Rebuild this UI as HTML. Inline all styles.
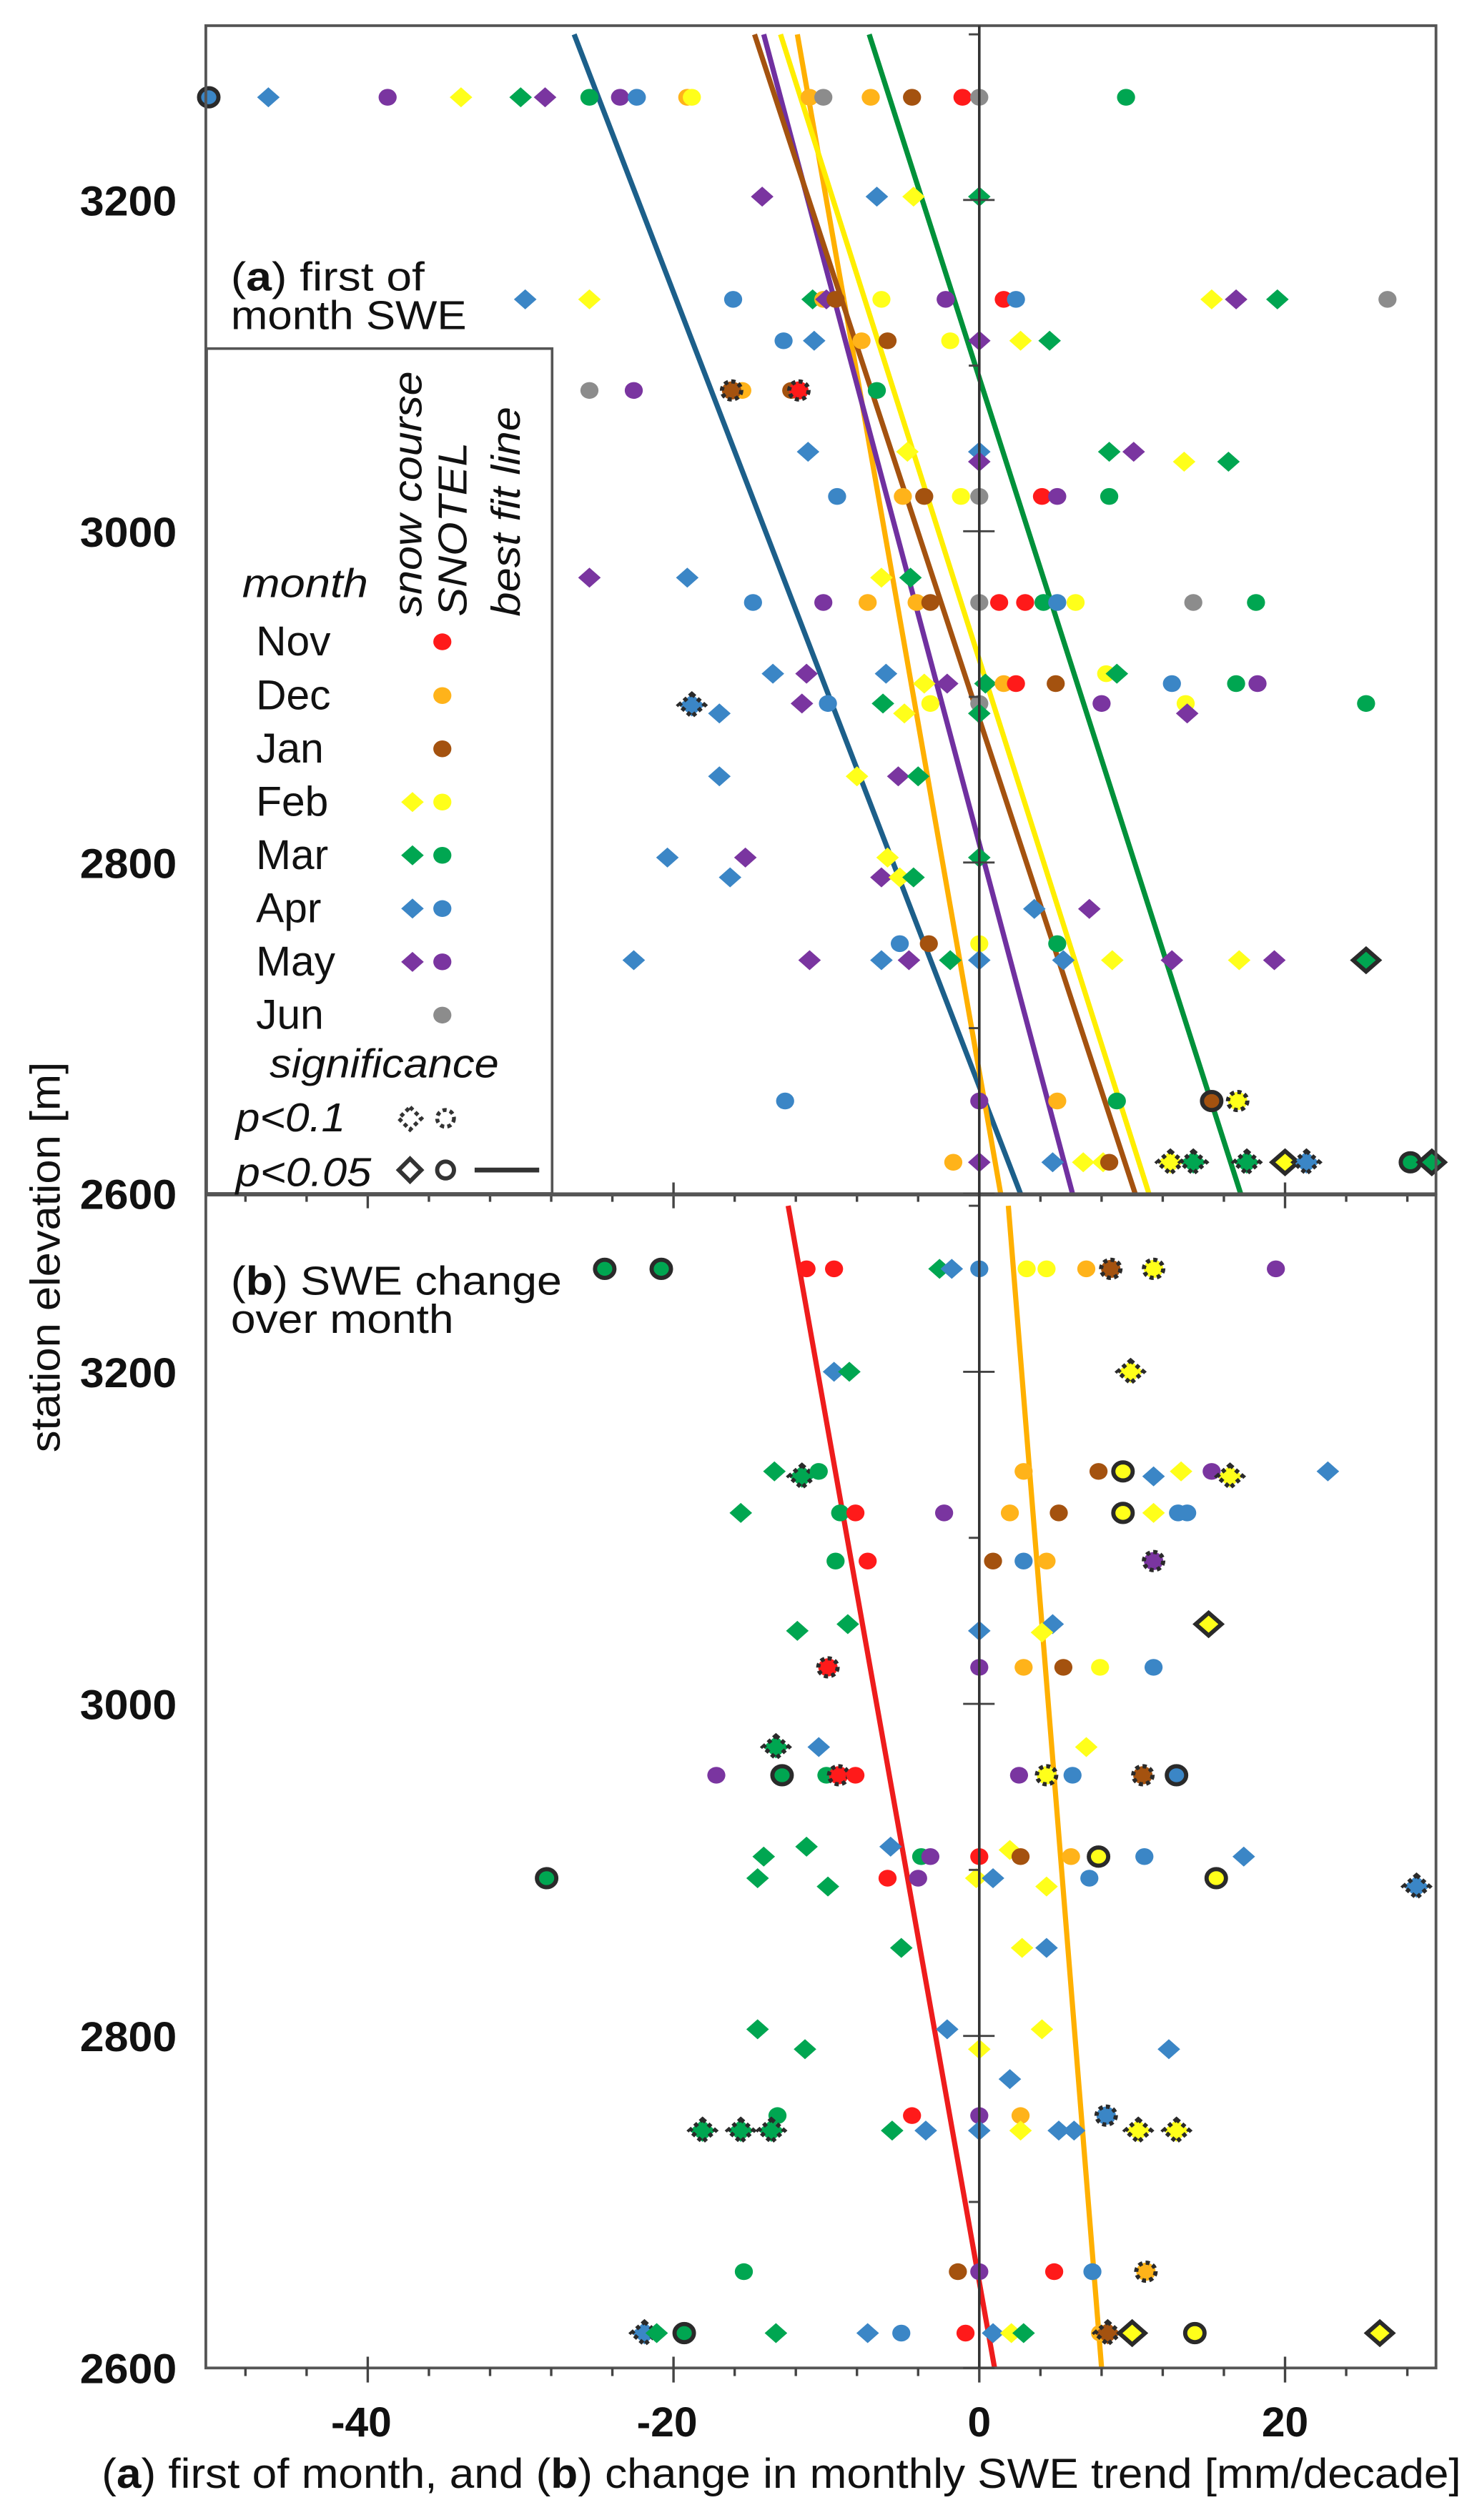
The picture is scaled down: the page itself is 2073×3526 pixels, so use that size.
<!DOCTYPE html>
<html><head><meta charset="utf-8"><style>
html,body{margin:0;padding:0;background:#fff}
svg{display:block}
text{font-family:"Liberation Sans",sans-serif;fill:#111}
</style></head><body>
<svg id="chart" xmlns="http://www.w3.org/2000/svg" width="2073" height="3526" viewBox="0 0 918 1561.5" preserveAspectRatio="none">
<rect x="0" y="0" width="918" height="1561.5" fill="#fff"/>
<g id="lines"></g>
<g id="pts"></g>
<g id="axes"></g>
<g>
 <rect x="128" y="216" width="214" height="523.5" fill="#fff" stroke="#555" stroke-width="1.6"/>
 <text x="143" y="180" font-size="25" textLength="120" lengthAdjust="spacingAndGlyphs">(<tspan font-weight="bold">a</tspan>) first of</text>
 <text x="143" y="204" font-size="25" textLength="146" lengthAdjust="spacingAndGlyphs">month SWE</text>
 <text transform="translate(261,382) rotate(-90)" font-size="25" font-style="italic" textLength="152" lengthAdjust="spacingAndGlyphs">snow course</text>
 <text transform="translate(289,382) rotate(-90)" font-size="25" font-style="italic" textLength="108" lengthAdjust="spacingAndGlyphs">SNOTEL</text>
 <text transform="translate(322,382) rotate(-90)" font-size="25" font-style="italic" textLength="130" lengthAdjust="spacingAndGlyphs">best fit line</text>
 <text x="150" y="370" font-size="25" font-style="italic" textLength="78" lengthAdjust="spacingAndGlyphs">month</text>
 <g id="legItems"></g>
 <text x="167" y="667.6" font-size="25" font-style="italic" textLength="142" lengthAdjust="spacingAndGlyphs">significance</text>
 <text x="146" y="701" font-size="25" font-style="italic" textLength="68" lengthAdjust="spacingAndGlyphs">p&lt;0.1</text>
 <text x="146" y="735" font-size="25" font-style="italic" textLength="84" lengthAdjust="spacingAndGlyphs">p&lt;0.05</text>
 <path d="M254 686 L261 693 L254 700 L247 693 Z" fill="#fff" stroke="#333" stroke-width="2.4" stroke-dasharray="2.5,2"/>
 <circle cx="276" cy="693" r="5.2" fill="#fff" stroke="#333" stroke-width="2.4" stroke-dasharray="2.5,2"/>
 <path d="M254 718 L261 725 L254 732 L247 725 Z" fill="#fff" stroke="#333" stroke-width="2.6"/>
 <circle cx="276" cy="725" r="5.2" fill="#fff" stroke="#333" stroke-width="2.6"/>
 <line x1="294" y1="725" x2="334" y2="725" stroke="#333" stroke-width="3"/>
</g>
<text x="143" y="802.3" font-size="25" textLength="205" lengthAdjust="spacingAndGlyphs">(<tspan font-weight="bold">b</tspan>) SWE change</text>
<text x="143" y="826" font-size="25" textLength="138" lengthAdjust="spacingAndGlyphs">over month</text>
<text transform="translate(37,900) rotate(-90)" font-size="26" textLength="242" lengthAdjust="spacingAndGlyphs">station elevation [m]</text>
<text x="63" y="1541.5" font-size="26" textLength="842" lengthAdjust="spacingAndGlyphs">(<tspan font-weight="bold">a</tspan>) first of month, and (<tspan font-weight="bold">b</tspan>) change in monthly SWE trend [mm/decade]</text>
</svg>
<script>
const months = ["Nov","Dec","Jan","Feb","Mar","Apr","May","Jun"];
const monthColors = {Nov:"#ff1a1a",Dec:"#ffb31a",Jan:"#a4520f",Feb:"#ffff1a",Mar:"#00a651",Apr:"#3b86c6",May:"#7a35a0",Jun:"#8c8c8c"};
const lineColors = {Nov:"#ee1c1c",Dec:"#ffb000",Jan:"#a4520f",Feb:"#ffee00",Mar:"#00913a",Apr:"#1c5f8a",May:"#7030a0"};
const xTicks = [-40,-20,0,20];
const yTicks = [2600,2800,3000,3200];
// best fit lines: value at 3300 m and at 2600 m
const fitAMonths = ["Apr","Dec","Feb","May","Jan","Mar"];
const fitATop = [-26.5,-11.9,-13.0,-14.1,-14.7,-7.2];
const fitABottom = [2.7,1.4,11.1,6.1,10.2,17.1];
const fitBMonths = ["Nov","Dec"];
const fitBTop = [-12.5,1.9];
const fitBBottom = [1.0,8.0];
// points: [month, shape(d=snow course diamond, c=SNOTEL circle), trend, elevation, significance(0,1=p<0.1,2=p<0.05)]
const pointsA = [
["Apr","c",-50.4,3262,2],["Apr","d",-46.5,3262,0],["May","c",-38.7,3262,0],["Feb","d",-33.9,3262,0],["Mar","d",-30.0,3262,0],["May","d",-28.4,3262,0],["Mar","c",-25.5,3262,0],["May","c",-23.5,3262,0],["Apr","c",-22.4,3262,0],["Dec","c",-19.1,3262,0],["Feb","c",-18.8,3262,0],["Dec","c",-11.1,3262,0],["Jun","c",-10.2,3262,0],["Dec","c",-7.1,3262,0],["Jan","c",-4.4,3262,0],["Nov","c",-1.1,3262,0],["Jun","c",0,3262,0],["Mar","c",9.6,3262,0],
["May","d",-14.2,3202,0],["Apr","d",-6.7,3202,0],["Feb","d",-4.3,3202,0],["Mar","d",0,3202,0],
["Apr","d",-29.7,3140,0],["Feb","d",-25.5,3140,0],["Apr","c",-16.1,3140,0],["Mar","d",-10.9,3140,0],["Dec","c",-10.2,3140,0],["May","d",-10.0,3140,0],["Jan","c",-9.4,3140,0],["Feb","c",-6.4,3140,0],["May","c",-2.2,3140,0],["Nov","c",1.6,3140,0],["Apr","c",2.4,3140,0],["Feb","d",15.2,3140,0],["May","d",16.8,3140,0],["Mar","d",19.5,3140,0],["Jun","c",26.7,3140,0],
["Apr","c",-12.8,3115,0],["Apr","d",-10.8,3115,0],["Dec","c",-7.7,3115,0],["Jan","c",-6.0,3115,0],["Feb","c",-1.9,3115,0],["May","d",0,3115,0],["Feb","d",2.7,3115,0],["Mar","d",4.6,3115,0],
["Jun","c",-25.5,3085,0],["May","c",-22.6,3085,0],["Dec","c",-15.5,3085,0],["Jan","c",-16.2,3085,1],["Jan","c",-12.3,3085,0],["Nov","c",-11.8,3085,1],["Mar","c",-6.7,3085,0],
["Apr","d",-11.2,3048,0],["Feb","d",-4.7,3048,0],["Apr","d",0,3048,0],["Mar","d",8.5,3048,0],["May","d",10.1,3048,0],
["May","d",0,3042,0],["Feb","d",13.4,3042,0],["Mar","d",16.3,3042,0],
["Apr","c",-9.3,3021,0],["Dec","c",-5.0,3021,0],["Jan","c",-3.6,3021,0],["Feb","c",-1.2,3021,0],["Jun","c",0,3021,0],["Nov","c",4.1,3021,0],["May","c",5.1,3021,0],["Mar","c",8.5,3021,0],
["May","d",-25.5,2972,0],["Apr","d",-19.1,2972,0],["Feb","d",-6.4,2972,0],["Mar","d",-4.5,2972,0],
["Apr","c",-14.8,2957,0],["May","c",-10.2,2957,0],["Dec","c",-7.3,2957,0],["Dec","c",-4.1,2957,0],["Jan","c",-3.2,2957,0],["Jun","c",0,2957,0],["Nov","c",1.3,2957,0],["Nov","c",3.0,2957,0],["Mar","c",4.2,2957,0],["Apr","c",5.1,2957,0],["Feb","c",6.3,2957,0],["Jun","c",14.0,2957,0],["Mar","c",18.1,2957,0],
["Apr","d",-13.5,2914,0],["May","d",-11.3,2914,0],["Apr","d",-6.1,2914,0],["Feb","c",8.3,2914,0],["Mar","d",9.0,2914,0],
["Feb","d",-3.6,2908,0],["May","d",-2.1,2908,0],["Mar","d",0.4,2908,0],["Dec","c",1.6,2908,0],["Nov","c",2.4,2908,0],["Jan","c",5.0,2908,0],["Apr","c",12.6,2908,0],["Mar","c",16.8,2908,0],["May","c",18.2,2908,0],
["Apr","d",-18.8,2895,1],["May","d",-11.6,2896,0],["Apr","c",-9.9,2896,0],["Mar","d",-6.3,2896,0],["Feb","c",-3.2,2896,0],["Jun","c",0,2896,0],["May","c",8.0,2896,0],["Feb","c",13.5,2896,0],["Mar","c",25.3,2896,0],
["Apr","d",-17.0,2890,0],["Feb","d",-4.9,2890,0],["Mar","d",0,2890,0],["May","d",13.6,2890,0],
["Apr","d",-17.0,2852,0],["Feb","d",-8.0,2852,0],["May","d",-5.3,2852,0],["Mar","d",-4.0,2852,0],
["Apr","d",-20.4,2803,0],["May","d",-15.3,2803,0],["Feb","d",-6.0,2803,0],["Mar","d",0,2803,0],
["Apr","d",-16.3,2791,0],["May","d",-6.4,2791,0],["Feb","d",-5.2,2791,0],["Mar","d",-4.3,2791,0],
["Apr","d",3.6,2772,0],["May","d",7.2,2772,0],
["Apr","c",-5.2,2751,0],["Jan","c",-3.3,2751,0],["Feb","c",0,2751,0],["Mar","c",5.1,2751,0],
["Apr","d",-22.6,2741,0],["May","d",-11.1,2741,0],["Apr","d",-6.4,2741,0],["May","d",-4.6,2741,0],["Mar","d",-1.9,2741,0],["Apr","d",0,2741,0],["Apr","d",5.5,2741,0],["Feb","d",8.7,2741,0],["May","d",12.6,2741,0],["Feb","d",17.0,2741,0],["May","d",19.3,2741,0],["Mar","d",25.3,2741,2],
["Apr","c",-12.7,2656,0],["May","c",0,2656,0],["Dec","c",5.1,2656,0],["Mar","c",9.0,2656,0],["Jan","c",15.2,2656,2],["Feb","c",16.9,2656,1],
["Dec","c",-1.7,2619,0],["May","d",0,2619,0],["Apr","d",4.8,2619,0],["Feb","d",6.8,2619,0],["Feb","d",8.1,2619,0],["Jan","c",8.5,2619,0],["Feb","d",12.5,2619,1],["Mar","d",14.0,2619,1],["Mar","d",17.5,2619,1],["Feb","d",20.0,2619,2],["Apr","d",21.4,2619,1],["Mar","c",28.2,2619,2],["Mar","d",29.6,2619,2]
];
const pointsB = [
["Mar","c",-24.5,3262,2],["Mar","c",-20.8,3262,2],["Nov","c",-11.3,3262,0],["Nov","c",-9.5,3262,0],["Mar","d",-2.6,3262,0],["Apr","d",-1.8,3262,0],["Apr","c",0,3262,0],["Feb","c",3.1,3262,0],["Feb","c",4.4,3262,0],["Dec","c",7.0,3262,0],["Jan","c",8.6,3262,1],["Feb","c",11.4,3262,1],["May","c",19.4,3262,0],
["Apr","d",-9.5,3200,0],["Mar","d",-8.5,3200,0],["Feb","d",9.9,3200,1],
["Mar","d",-13.4,3140,0],["Mar","d",-11.6,3137,1],["Mar","c",-10.5,3140,0],["Dec","c",2.9,3140,0],["Jan","c",7.8,3140,0],["Feb","c",9.4,3140,2],["Apr","d",11.4,3137,0],["Feb","d",13.2,3140,0],["May","c",15.2,3140,0],["Feb","d",16.4,3137,1],["Apr","d",22.8,3140,0],
["Mar","d",-15.6,3115,0],["Mar","c",-9.1,3115,0],["Nov","c",-8.1,3115,0],["May","c",-2.3,3115,0],["Dec","c",2.0,3115,0],["Jan","c",5.2,3115,0],["Feb","c",9.4,3115,2],["Feb","d",11.4,3115,0],["Apr","c",13.0,3115,0],["Apr","c",13.6,3115,0],
["Mar","c",-9.4,3086,0],["Nov","c",-7.3,3086,0],["Jan","c",0.9,3086,0],["Apr","c",2.9,3086,0],["Dec","c",4.4,3086,0],["May","c",11.4,3086,1],
["Mar","d",-11.9,3044,0],["Mar","d",-8.6,3048,0],["Apr","d",0,3044,0],["Apr","d",4.8,3048,0],["Feb","d",4.1,3043,0],["Feb","d",15.0,3048,2],
["Nov","c",-9.9,3022,1],["May","c",0,3022,0],["Dec","c",2.9,3022,0],["Jan","c",5.5,3022,0],["Feb","c",7.9,3022,0],["Apr","c",11.4,3022,0],
["Mar","d",-13.3,2974,1],["Apr","d",-10.5,2974,0],["Feb","d",7.0,2974,0],
["May","c",-17.2,2957,0],["Mar","c",-12.9,2957,2],["Mar","c",-10.0,2957,0],["Nov","c",-9.2,2957,1],["Nov","c",-8.1,2957,0],["May","c",2.6,2957,0],["Feb","c",4.4,2957,1],["Apr","c",6.1,2957,0],["Jan","c",10.7,2957,1],["Apr","c",12.9,2957,2],
["Mar","d",-11.3,2914,0],["Apr","d",-5.8,2914,0],["Mar","c",-3.8,2908,0],["May","c",-3.2,2908,0],["Nov","c",0,2908,0],["Feb","d",2.0,2912,0],["Jan","c",2.7,2908,0],["Dec","c",6.0,2908,0],["Feb","c",7.8,2908,2],["Apr","c",10.8,2908,0],["Apr","d",17.3,2908,0],
["Mar","d",-14.1,2908,0],
["Mar","c",-28.3,2895,2],["Mar","d",-14.5,2895,0],["Mar","d",-9.9,2890,0],["Nov","c",-6.0,2895,0],["May","c",-4.0,2895,0],["Feb","d",-0.2,2895,0],["Apr","d",0.9,2895,0],["Feb","d",4.4,2890,0],["Apr","c",7.2,2895,0],["Feb","c",15.5,2895,2],["Apr","d",28.6,2890,1],
["Mar","d",-5.1,2853,0],["Feb","d",2.8,2853,0],["Apr","d",4.4,2853,0],
["Mar","d",-14.5,2804,0],["Apr","d",-2.1,2804,0],["Feb","d",4.1,2804,0],
["Mar","d",-11.4,2792,0],["Feb","d",0,2792,0],["Apr","d",12.4,2792,0],
["Apr","d",2.0,2774,0],
["Mar","c",-13.2,2752,0],["Nov","c",-4.4,2752,0],["May","c",0,2752,0],["Dec","c",2.7,2752,0],["Apr","c",8.3,2752,1],
["Mar","d",-18.1,2743,1],["Mar","d",-15.6,2743,1],["Mar","d",-13.6,2743,1],["Mar","d",-5.7,2743,0],["Apr","d",-3.5,2743,0],["Apr","d",0,2743,0],["Feb","d",2.7,2743,0],["Apr","d",5.2,2743,0],["Apr","d",6.2,2743,0],["Feb","d",10.4,2743,1],["Feb","d",12.9,2743,1],
["Mar","c",-15.4,2658,0],["Jan","c",-1.4,2658,0],["May","c",0,2658,0],["Nov","c",4.9,2658,0],["Apr","c",7.4,2658,0],["Dec","c",10.9,2658,1],
["Apr","d",-21.9,2621,1],["Mar","d",-21.1,2621,0],["Mar","c",-19.3,2621,2],["Mar","d",-13.3,2621,0],["Apr","d",-7.3,2621,0],["Apr","c",-5.1,2621,0],["Nov","c",-0.9,2621,0],["Apr","d",0.9,2621,0],["Feb","d",2.1,2621,0],["Mar","d",2.9,2621,0],["Dec","c",7.9,2621,0],["Jan","d",8.4,2621,1],["Feb","d",10.0,2621,2],["Feb","c",14.1,2621,2],["Feb","d",26.2,2621,2]
];

const NS = "http://www.w3.org/2000/svg";
const X0 = 606.6, XS = 9.47, LEFT = 127.5, RIGHT = 889.5;
const panelA = {top:15.9, bottom:739.7, k:1.0263};
const panelB = {top:740.5, bottom:1467.3, k:1.0288};
function xs(v){ return X0 + v*XS; }
function ys(p, e){ return p.bottom - (e-2600)*p.k; }
function mk(tag, attrs, parent){
  const el = document.createElementNS(NS, tag);
  for (const k in attrs) el.setAttribute(k, attrs[k]);
  parent.appendChild(el);
  return el;
}
const gl = document.getElementById('lines');
const gp = document.getElementById('pts');
const ga = document.getElementById('axes');

function drawFit(p, ms, top, bot, prefix){
  for (let i=0;i<ms.length;i++){
    const l = mk('line', {x1:xs(top[i]), y1:ys(p,3300), x2:xs(bot[i]), y2:ys(p,2600), stroke:lineColors[ms[i]], 'stroke-width':3.2}, gl);
    
    
  }
}
drawFit(panelA, fitAMonths, fitATop, fitABottom, 'panel-a');
drawFit(panelB, fitBMonths, fitBTop, fitBBottom, 'panel-b');

function marker(parent, shape, cx, cy, fill, sig){
  const st = sig ? {stroke:'#2a2a2a','stroke-width':2.6} : {};
  if (sig === 1) st['stroke-dasharray'] = '2.5,2';
  let el;
  if (shape === 'd'){
    const w = sig ? 8 : 7, h = sig ? 7 : 6.2;
    el = mk('path', Object.assign({d:`M${cx} ${cy-h} L${cx+w} ${cy} L${cx} ${cy+h} L${cx-w} ${cy} Z`, fill:fill}, st), parent);
  } else {
    el = mk('ellipse', Object.assign({cx:cx, cy:cy, rx: sig?6:5.6, ry: sig?5.6:5.2, fill:fill}, st), parent);
  }
  return el;
}
function drawPts(p, pts, prefix){
  pts.forEach(function(d){
    const el = marker(gp, d[1], xs(d[2]), ys(p, d[3]), monthColors[d[0]], d[4]);
    
    
  });
}
drawPts(panelA, pointsA, 'panel-a');
drawPts(panelB, pointsB, 'panel-b');

// frames
[panelA, panelB].forEach(function(p, i){
  const r = mk('rect', {x:LEFT, y:p.top, width:RIGHT-LEFT, height:p.bottom-p.top, fill:'none', stroke:'#555', 'stroke-width':1.7}, ga);
  
  
  // x ticks every 4 units
  for (let v=-48; v<=28; v+=4){
    const major = xTicks.indexOf(v) >= 0;
    const t = mk('line', {x1:xs(v), x2:xs(v), y1: major ? p.bottom-7 : p.bottom, y2: p.bottom + (major?9:5), stroke:'#444','stroke-width':1.5}, ga);
    
    
  }
  // zero-line elevation ticks
  for (let e=2600; e<=3300; e+=100){
    const major = (e % 200) === 0;
    const yy = ys(p, e);
    const t = mk('line', {x1: X0-(major?10:6.5), x2: X0+(major?9.5:0), y1:yy, y2:yy, stroke:'#444','stroke-width':1.3}, ga);
    
    
  }
  yTicks.forEach(function(e){
    const t = mk('text', {x:109.5, y:ys(p,e)+9.5, 'text-anchor':'end', 'font-size':26, 'font-weight':'bold', textLength:60, lengthAdjust:'spacingAndGlyphs'}, ga);
    t.textContent = e;
    
    
  });
});
const zl = mk('line', {x1:X0, x2:X0, y1:panelA.top, y2:panelB.bottom, stroke:'#333','stroke-width':1.6}, ga);


xTicks.forEach(function(v){
  const t = mk('text', {x:xs(v)-(v<0?4:0), y:1509.6, 'text-anchor':'middle', 'font-size':26, 'font-weight':'bold'}, ga);
  t.textContent = v;
  
  
});

// legend month entries
const legY = [397.7,431,464,497,530,563,596,629];
const legShapes = {Nov:'c',Dec:'c',Jan:'c',Feb:'dc',Mar:'dc',Apr:'dc',May:'dc',Jun:'c'};
const gli = document.getElementById('legItems');
months.forEach(function(m, i){
  const t = mk('text', {x:158.6, y:legY[i]+8.5, 'font-size':26}, gli);
  t.textContent = m;
  
  
  if (legShapes[m].indexOf('d') >= 0){
    const d = marker(gli, 'd', 255.5, legY[i], monthColors[m], 0);
    
    
  }
  const c = marker(gli, 'c', 274, legY[i], monthColors[m], 0);
  
  
});
</script>
</body></html>
